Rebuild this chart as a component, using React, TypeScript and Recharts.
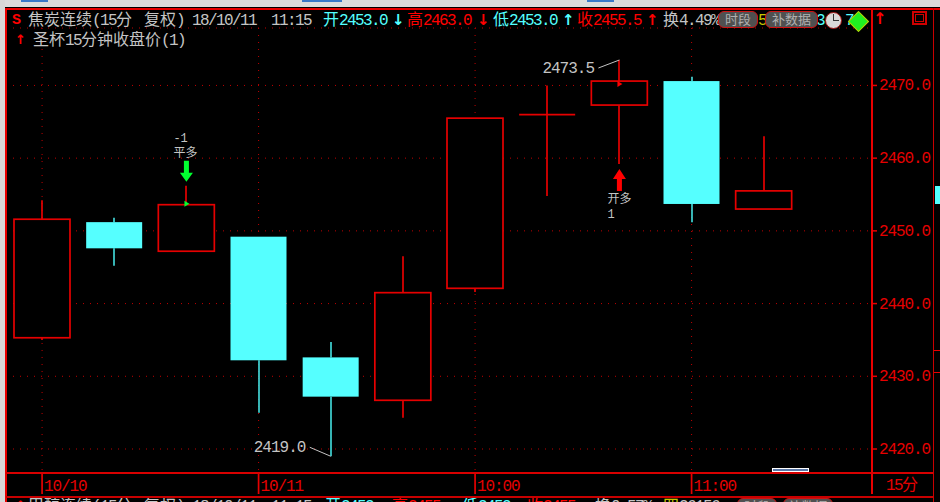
import { Bar, CartesianGrid, ComposedChart, ReferenceDot, XAxis, YAxis } from "recharts";

// ---------------------------------------------------------------------------
// Data
// ---------------------------------------------------------------------------

const categories = ["10/10", "14:45", "15:00", "10/11", "09:30", "09:45", "10:00", "10:15", "10:45", "11:00", "11:15", "11:30"];
const opens = [2435.3, 2451.2, 2447.2, 2449.2, 2432.6, 2426.7, 2442.1, 2466.0, 2467.3, 2470.6, 2453.0];
const highs = [2454.2, 2451.8, 2456.2, 2449.2, 2434.7, 2446.5, 2465.5, 2470.0, 2473.5, 2471.2, 2463.0];
const lows = [2435.0, 2445.2, 2447.2, 2425.0, 2419.0, 2424.3, 2441.6, 2454.8, 2459.2, 2451.2, 2453.0];
const closes = [2451.6, 2447.6, 2453.6, 2432.2, 2427.2, 2441.5, 2465.5, 2466.0, 2470.6, 2453.7, 2455.5];

const xTicks = ["10/10", "10/11", "10:00", "11:00"];
const yTicks = [2420, 2430, 2440, 2450, 2460, 2470];
const yDomain = [2416.7, 2477.9];

const RED = "#e60000";
const CYAN = "#55ffff";
const GRAY = "#c4c4c4";
const MONO = "'Liberation Mono', 'Noto Sans CJK SC', monospace";
const CJK = "'Noto Sans CJK SC', 'Liberation Mono', monospace";

// one candle per category; the last category stays empty, as in the picture
const candleData = categories.map((name, i) => ({
  name,
  range: i < opens.length ? [lows[i], highs[i]] : null,
  open: opens[i],
  high: highs[i],
  low: lows[i],
  close: closes[i],
}));

// ---------------------------------------------------------------------------
// Marks
// ---------------------------------------------------------------------------

function Candle(props: any) {
  const { x, y, width, height, payload } = props;
  if (!payload || payload.range == null) return null;
  const { open, high, low, close } = payload;
  const up = close >= open;
  const span = high - low || 1;
  const top = y + ((high - Math.max(open, close)) / span) * height;
  const bottom = y + ((high - Math.min(open, close)) / span) * height;
  const mid = Math.round(x + width / 2);
  const wick = up ? RED : "#40d4d4";
  if (open === close) {
    return (
      <g>
        <line x1={mid} x2={mid} y1={y} y2={y + height} stroke={RED} strokeWidth={1.7} />
        <line x1={x} x2={x + width} y1={top} y2={top} stroke={RED} strokeWidth={1.7} />
      </g>
    );
  }
  return (
    <g>
      <line x1={mid} x2={mid} y1={y} y2={top} stroke={wick} strokeWidth={1.7} />
      <line x1={mid} x2={mid} y1={bottom} y2={y + height} stroke={wick} strokeWidth={1.7} />
      <rect
        x={x}
        y={top}
        width={width}
        height={bottom - top}
        fill={up ? "#000" : CYAN}
        stroke={up ? RED : "none"}
        strokeWidth={up ? 1.7 : 0}
      />
    </g>
  );
}

function PriceNote(props: any) {
  const { cx, cy, text, dx, dy } = props;
  return (
    <g>
      <line x1={cx - 21} y1={cy + dy} x2={cx} y2={cy} stroke={GRAY} strokeWidth={1} />
      <text
        x={cx + dx}
        y={cy + dy + 5}
        fontFamily={MONO}
        fontSize={16}
        letterSpacing={-1}
        fill={GRAY}
      >
        {text}
      </text>
    </g>
  );
}

function SellArrow(props: any) {
  const { cx, cy } = props;
  const tip = cy - 4;
  return (
    <g>
      <path
        d={`M${cx - 2.5} ${tip - 21} h5 v12 h4 L${cx} ${tip} L${cx - 6.5} ${tip - 9} h4 Z`}
        fill="#00ff30"
      />
      <path d={`M${cx - 2} ${cy + 15} l5 3 l-5 3 Z`} fill="#00ff30" />
      <text x={cx - 13} y={cy - 44} fontFamily={MONO} fontSize={12} fill={GRAY}>-1</text>
      <text x={cx - 13} y={cy - 29} fontFamily={CJK} fontSize={12} fill={GRAY}>平多</text>
    </g>
  );
}

function BuyArrow(props: any) {
  const { cx, cy } = props;
  const tip = cy + 5;
  return (
    <g>
      <path
        d={`M${cx} ${tip} L${cx + 6.5} ${tip + 10} h-4 v12 h-5 v-12 h-4 Z`}
        fill="#ff0000"
      />
      <path d={`M${cx - 2} ${cy - 83} l5 3 l-5 3 Z`} fill="#ff0000" />
      <text x={cx - 12} y={cy + 39} fontFamily={CJK} fontSize={12} fill={GRAY}>开多</text>
      <text x={cx - 12} y={cy + 54} fontFamily={MONO} fontSize={12} fill={GRAY}>1</text>
    </g>
  );
}

function PriceTick(props: any) {
  const { x, y, payload } = props;
  return (
    <g>
      <line x1={x - 8} x2={x - 3} y1={y} y2={y} stroke={RED} strokeWidth={1.5} />
      <text
        x={x - 1}
        y={y + 5}
        fontFamily={MONO}
        fontSize={16}
        letterSpacing={-1.1}
        fill={RED}
      >
        {Number(payload.value).toFixed(1)}
      </text>
    </g>
  );
}

function TimeTick(props: any) {
  const { x, y, payload } = props;
  return (
    <g>
      <line x1={x} x2={x} y1={y - 8} y2={y + 13} stroke={RED} strokeWidth={1.7} />
      <text
        x={x + 2}
        y={y + 10}
        fontFamily={MONO}
        fontSize={16}
        letterSpacing={-1.1}
        fill={RED}
      >
        {payload.value}
      </text>
    </g>
  );
}

// ---------------------------------------------------------------------------
// Header and frame (the trading window around the chart)
// ---------------------------------------------------------------------------

const headerItems: [number, string, string][] = [
  [28, "焦炭连续", GRAY],
  [92, "(15", GRAY],
  [116, "分", GRAY],
  [144, "复权", GRAY],
  [176, ")", GRAY],
  [192, "18/10/11", GRAY],
  [271, "11:15", GRAY],
  [323, "开", CYAN],
  [339, "2453.0", CYAN],
  [407, "高", "#ff0000"],
  [423, "2463.0", "#ff0000"],
  [493, "低", CYAN],
  [509, "2453.0", CYAN],
  [577, "收", "#ff0000"],
  [593, "2455.5", "#ff0000"],
  [663, "换", GRAY],
  [679, "4.49%", GRAY],
  [758, "5", "#c8c800"],
  [816, "3", CYAN],
  [845, "7", CYAN],
];

const headerArrows: [number, string, string][] = [
  [398, "↓", CYAN],
  [483, "↓", "#ff0000"],
  [568, "↑", CYAN],
  [652, "↑", "#ff0000"],
];

const footerItems: [number, string, string][] = [
  [28, "甲醇连续", GRAY],
  [92, "(15", GRAY],
  [116, "分", GRAY],
  [144, "复权", GRAY],
  [176, ")", GRAY],
  [192, "18/10/11", GRAY],
  [271, "11:15", GRAY],
  [325, "开", CYAN],
  [341, "2453", CYAN],
  [392, "高", "#ff0000"],
  [408, "2455", "#ff0000"],
  [462, "低", CYAN],
  [478, "2453", CYAN],
  [527, "收", "#ff0000"],
  [543, "2455", "#ff0000"],
  [595, "换", GRAY],
  [611, "0.57%", GRAY],
  [663, "四", "#c8c800"],
  [679, "26156", GRAY],
];

function Label({ x, y, text, color }: { x: number; y: number; text: string; color: string }) {
  const cjk = /[^\x00-\x7f]/.test(text);
  return (
    <div
      style={{
        position: "absolute",
        left: x,
        top: y,
        color,
        fontFamily: MONO,
        fontSize: 16,
        lineHeight: "18px",
        letterSpacing: cjk ? 0 : -1.6,
        whiteSpace: "pre",
      }}
    >
      {text}
    </div>
  );
}

function Pill({ x, w, text, top = 11 }: { x: number; w: number; text: string; top?: number }) {
  return (
    <div
      style={{
        position: "absolute",
        left: x,
        top,
        width: w,
        height: 17,
        boxSizing: "border-box",
        border: "1px solid #d01010",
        borderRadius: 6,
        background: "#505050",
        color: "#b0b0b0",
        fontFamily: CJK,
        fontSize: 13,
        lineHeight: "14px",
        textAlign: "center",
      }}
    >
      {text}
    </div>
  );
}

function Rule({ x, y, w, h, color = "#e80000" }: { x: number; y: number; w: number; h: number; color?: string }) {
  return <div style={{ position: "absolute", left: x, top: y, width: w, height: h, background: color }} />;
}

function Frame() {
  return (
    <>
      {/* window chrome */}
      <Rule x={0} y={0} w={940} h={7} color="#dcdcdc" />
      <Rule x={0} y={0} w={5} h={502} color="#d8d8d8" />
      <Rule x={21} y={0} w={27} h={2} color="#3a78c8" />
      <Rule x={302} y={0} w={40} h={2} color="#3a78c8" />
      <Rule x={587} y={0} w={27} h={2} color="#3a78c8" />

      {/* panel rules */}
      <Rule x={5} y={8} w={935} h={2} />
      <Rule x={5} y={8} w={2} h={494} />
      <Rule x={871} y={8} w={2} h={486} />
      <Rule x={933} y={8} w={1} h={494} color="#c80000" />
      <Rule x={6} y={472} w={927} h={2} color="#d80000" />
      <Rule x={6} y={496} w={927} h={2} color="#c80000" />

      {/* neighbouring panel on the right */}
      <Rule x={935} y={186} w={5} h={18} color={CYAN} />
      <Rule x={934} y={350} w={6} h={1} />
      <Rule x={934} y={372} w={6} h={1} />

      {/* header line */}
      <div
        style={{
          position: "absolute",
          left: 12,
          top: 12,
          color: "#ff0000",
          fontFamily: MONO,
          fontWeight: 700,
          fontSize: 15,
          lineHeight: "18px",
        }}
      >
        S
      </div>
      {headerItems.map(([x, text, color]) => (
        <Label key={`h-${x}`} x={x} y={12} text={text} color={color} />
      ))}
      {headerArrows.map(([x, text, color]) => (
        <div
          key={`a-${x}`}
          style={{
            position: "absolute",
            left: x - 6,
            top: 11,
            color,
            fontFamily: "'DejaVu Sans'",
            fontSize: 15,
            fontWeight: 700,
            lineHeight: "18px",
          }}
        >
          {text}
        </div>
      ))}
      <Pill x={718} w={40} text="时段" />
      <Pill x={765} w={53} text="补数据" />

      {/* clock + diamond + corner icons */}
      <div style={{ position: "absolute", left: 825, top: 12, width: 17, height: 17, borderRadius: 9, background: "#d8d8d8", border: "1px solid #a01010", boxSizing: "border-box" }} />
      <div style={{ position: "absolute", left: 833, top: 14, width: 1, height: 7, background: "#333" }} />
      <div style={{ position: "absolute", left: 833, top: 20, width: 6, height: 1, background: "#333" }} />
      <div style={{ position: "absolute", left: 851, top: 14, width: 13, height: 13, background: "#20f020", border: "1px solid #c8c800", transform: "rotate(45deg)" }} />
      <div style={{ position: "absolute", left: 873, top: 11, color: "#ff0000", fontFamily: "'DejaVu Sans'", fontWeight: 700, fontSize: 16, lineHeight: "16px" }}>↑</div>
      <div style={{ position: "absolute", left: 912, top: 11, width: 15, height: 14, boxSizing: "border-box", border: "2px solid #d00000" }} />
      <div style={{ position: "absolute", left: 915, top: 14, width: 9, height: 8, boxSizing: "border-box", border: "1px solid #d00000" }} />

      {/* indicator line */}
      <div style={{ position: "absolute", left: 15, top: 31, color: "#ff0000", fontFamily: "'DejaVu Sans'", fontWeight: 700, fontSize: 13, lineHeight: "18px" }}>↑</div>
      <Label x={33} y={32} text="圣杯" color={GRAY} />
      <Label x={65} y={32} text="15" color={GRAY} />
      <Label x={81} y={32} text="分钟收盘价" color={GRAY} />
      <Label x={161} y={32} text="(1)" color={GRAY} />

      {/* 15分 corner label */}
      <Label x={886} y={477} text="15" color={RED} />
      <Label x={902} y={477} text="分" color={RED} />

      {/* scroll thumb */}
      <div style={{ position: "absolute", left: 772, top: 468, width: 37, height: 4, boxSizing: "border-box", border: "1px solid #fff", background: "#5a78a8" }} />

      {/* top of the next panel, cut off by the window */}
      <div style={{ position: "absolute", left: 0, top: 498, width: 933, height: 4, overflow: "hidden" }}>
        <div style={{ position: "absolute", left: 15, top: -1, color: "#ff0000", fontFamily: "'DejaVu Sans'", fontWeight: 700, fontSize: 13, lineHeight: "18px" }}>↑</div>
        {footerItems.map(([x, text, color]) => (
          <Label key={`f-${x}`} x={x} y={0} text={text} color={color} />
        ))}
        <Pill x={737} w={40} text="时段" top={0} />
        <Pill x={783} w={50} text="补数据" top={0} />
      </div>
    </>
  );
}

// ---------------------------------------------------------------------------
// App
// ---------------------------------------------------------------------------

export default function App() {
  return (
    <div
      style={{
        position: "fixed",
        left: 0,
        top: 0,
        width: 940,
        height: 502,
        background: "#000",
        overflow: "hidden",
      }}
    >
      <div style={{ position: "absolute", left: 0, top: 0 }}>
        <ComposedChart
          width={940}
          height={502}
          data={candleData}
          margin={{ top: 28, right: 0, bottom: 0, left: 6 }}
          barCategoryGap={0}
        >
          <CartesianGrid stroke="#c00000" strokeWidth={1} strokeDasharray="1 6" />
          <XAxis
            dataKey="name"
            ticks={xTicks}
            interval={0}
            height={29}
            tickLine={false}
            axisLine={false}
            tick={<TimeTick />}
          />
          <YAxis
            orientation="right"
            domain={yDomain}
            ticks={yTicks}
            width={68}
            allowDataOverflow
            tickLine={false}
            axisLine={false}
            tick={<PriceTick />}
          />
          <Bar dataKey="range" barSize={56} isAnimationActive={false} shape={<Candle />} />
          <ReferenceDot
            x="10:45"
            y={2473.5}
            shape={<PriceNote text="2473.5" dx={-77} dy={8} />}
          />
          <ReferenceDot
            x="09:30"
            y={2419.0}
            shape={<PriceNote text="2419.0" dx={-77} dy={-9} />}
          />
          <ReferenceDot x="15:00" y={2456.2} shape={<SellArrow />} />
          <ReferenceDot x="10:45" y={2459.2} shape={<BuyArrow />} />
        </ComposedChart>
      </div>
      <Frame />
    </div>
  );
}
